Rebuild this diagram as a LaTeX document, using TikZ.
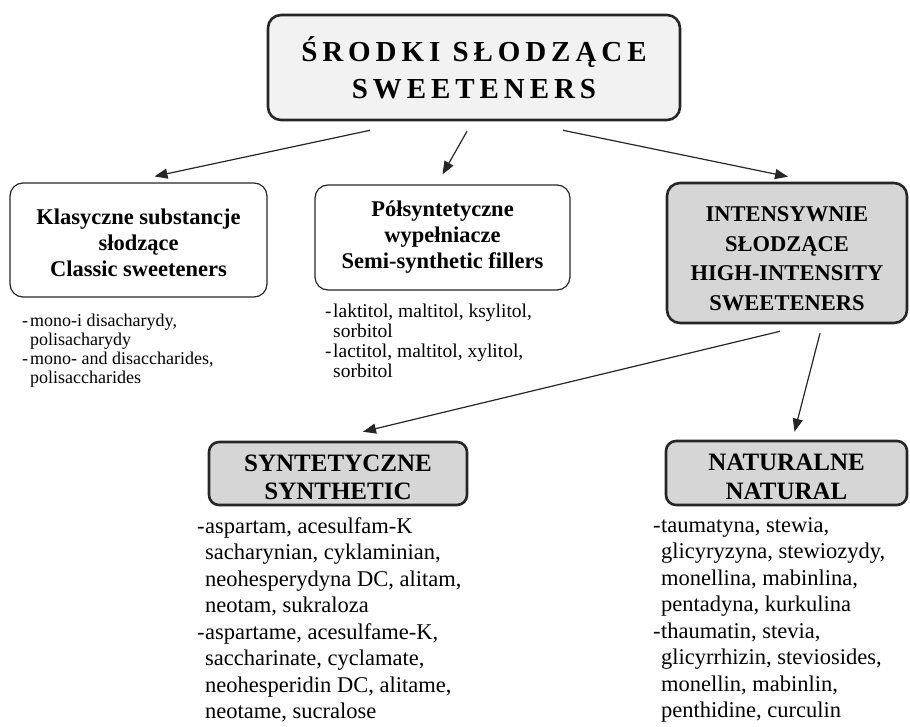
\documentclass[tikz,border=0pt]{standalone}
\usepackage{fontspec}
\setmainfont{Liberation Serif}
\usetikzlibrary{arrows.meta}

\newcommand\dsh{\makebox[8pt][l]{-}}
\newcommand\ind{\hspace*{8pt}}

\tikzset{
  box/.style={draw=black!85, rounded corners=13pt, line width=1.2pt, align=center, inner sep=0pt},
  mainbox/.style={box, fill=black!5, line width=2.6pt,
    font=\fontsize{29}{37}\selectfont\bfseries\addfontfeature{LetterSpace=17}},
  sidebox/.style={box, font=\fontsize{22.5}{26}\selectfont\bfseries},
  greybox/.style={box, fill=black!16, line width=2.6pt, font=\fontsize{22.5}{29.5}\selectfont\bfseries},
  smallgrey/.style={greybox, rounded corners=10pt, font=\fontsize{25}{28.5}\selectfont\bfseries},
  smalllist/.style={anchor=north west, inner sep=0pt, align=left, font=\fontsize{18}{19}\selectfont},
  biglist/.style={anchor=north west, inner sep=0pt, align=left, font=\fontsize{22.5}{26.5}\selectfont},
  arr/.style={-{Triangle[length=13pt,width=10pt]}, line width=1.2pt, black!85}
}

\begin{document}
\begin{tikzpicture}[x=1pt,y=-1pt]
  \useasboundingbox (0,0) rectangle (910,727);

  % boxes
  \node[mainbox, minimum width=412pt, minimum height=105pt] (top) at (474,67.5)
    {ŚRODKI SŁODZĄCE\\SWEETENERS};
  \node[sidebox, minimum width=257pt, minimum height=114pt] (klas) at (138.5,240)
    {\rule{0pt}{22pt}Klasyczne substancje\\słodzące\\Classic sweeteners};
  \node[sidebox, minimum width=255pt, minimum height=105pt] (pol) at (442.5,237.5)
    {Półsyntetyczne\\wypełniacze\\Semi-synthetic fillers};
  \node[greybox, minimum width=240pt, minimum height=140pt] (int) at (787,253)
    {\rule{0pt}{26pt}INTENSYWNIE\\SŁODZĄCE\\HIGH-INTENSITY\\SWEETENERS};
  \node[smallgrey, minimum width=258pt, minimum height=63pt] (syn) at (338,473.5)
    {\rule{0pt}{24pt}SYNTETYCZNE\\SYNTHETIC};
  \node[smallgrey, minimum width=241pt, minimum height=64pt] (nat) at (786.5,473)
    {\rule{0pt}{24pt}NATURALNE\\NATURAL};

  % lists
  \node[smalllist] (klaslist) at (22,314)
    {\dsh mono-i disacharydy,\\\ind polisacharydy\\\dsh mono- and disaccharides,\\\ind polisaccharides};
  \node[smalllist, font=\fontsize{19.5}{19.8}\selectfont] (pollist) at (325,304)
    {\dsh laktitol, maltitol, ksylitol,\\\ind sorbitol\\\dsh lactitol, maltitol, xylitol,\\\ind sorbitol};
  \node[biglist] (synlist) at (197,517)
    {\dsh aspartam, acesulfam-K\\\ind sacharynian, cyklaminian,\\\ind neohesperydyna DC, alitam,\\\ind neotam, sukraloza\\
     \dsh aspartame, acesulfame-K,\\\ind saccharinate, cyclamate,\\\ind neohesperidin DC, alitame,\\\ind neotame, sucralose};
  \node[biglist] (natlist) at (653,517)
    {\dsh taumatyna, stewia,\\\ind glicyryzyna, stewiozydy,\\\ind monellina, mabinlina,\\\ind pentadyna, kurkulina\\
     \dsh thaumatin, stevia,\\\ind glicyrrhizin, steviosides,\\\ind monellin, mabinlin,\\\ind penthidine, curculin};

  % arrows
  \draw[arr] ([xshift=-104pt,yshift=-9pt]top.south) -- ([xshift=16pt,yshift=6pt]klas.north);
  \draw[arr] ([xshift=-7pt,yshift=-10pt]top.south) -- ([yshift=10pt]pol.north);
  \draw[arr] ([xshift=89pt,yshift=-9pt]top.south) -- ([xshift=1pt,yshift=5pt]int.north);
  \draw[arr] ([xshift=-7pt,yshift=-7pt]int.south) -- ([xshift=25pt,yshift=9pt]syn.north);
  \draw[arr] ([xshift=33pt,yshift=-9pt]int.south) -- ([xshift=8pt,yshift=8pt]nat.north);
\end{tikzpicture}
\end{document}
